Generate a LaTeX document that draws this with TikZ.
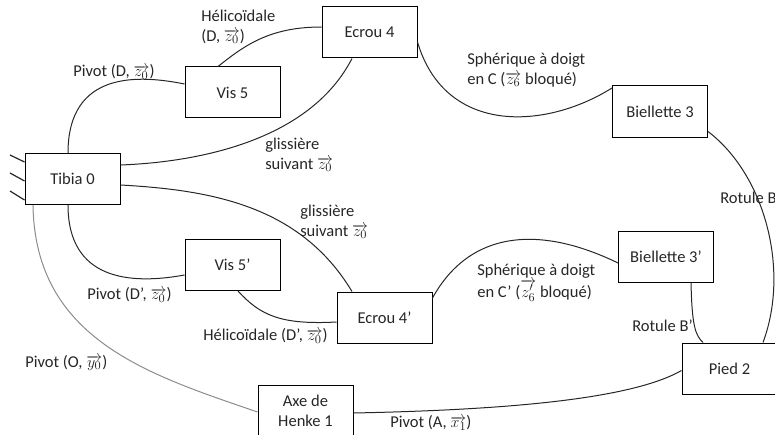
\documentclass[tikz,border=0pt]{standalone}
\usepackage{fontspec}
\setmainfont{Carlito}
\usetikzlibrary{calc}
\tikzset{
  box/.style={draw, line width=0.75pt, rectangle, minimum width=71.25pt, minimum height=38.25pt, inner sep=0pt, align=center, text=black!85},
  lab/.style={inner sep=0pt, anchor=west, align=left, text=black!85},
  link/.style={line width=0.75pt, draw=black!85},
  glink/.style={line width=0.75pt, draw=black!45},
  hatch/.style={line width=0.9pt, draw=black!85}
}
\begin{document}
\begin{tikzpicture}[x=0.75pt,y=-0.75pt,font=\fontsize{12.4pt}{15pt}\selectfont]
\useasboundingbox (0,0) rectangle (775,435);
\begin{scope}
\clip (0,0) rectangle (775,435);
% nodes
\node[box] (tibia) at (72.5,179) {Tibia 0};
\node[box] (vis) at (232.5,92.5) {Vis 5};
\node[box] (ecrou) at (369.5,32.5) {Ecrou 4};
\node[box] (biel) at (660,111.5) {Biellette 3};
\node[box] (visp) at (232.5,265) {Vis 5’};
\node[box] (ecroup) at (384.5,317.5) {Ecrou 4’};
\node[box] (bielp) at (666,256.5) {Biellette 3’};
\node[box] (pied) at (729.5,368.5) {Pied 2};
\node[box] (axe) at (305.5,410.5) {Axe de\\Henke 1};
% ground hatching
\coordinate (h1) at (10,155);
\coordinate (h2) at (10,173);
\coordinate (h3) at (10,191);
\draw[hatch] (h1) -- ($(tibia.north west)+(0,9)$);
\draw[hatch] (h2) -- ($(tibia.west)+(0,2)$);
\draw[hatch] (h3) -- ($(tibia.south west)+(0,-5)$);
% connectors
\draw[link] ($(tibia.north)+(-4.5,0)$) .. controls (68,70) and (140,75) .. ($(vis.west)+(0,-8.5)$);
\draw[link] ($(vis.north)+(-14.5,0)$) .. controls (245,45) and (270,27) .. ($(ecrou.west)+(0,-5.5)$);
\draw[link] ($(tibia.east)+(0,-14)$) .. controls (200,162) and (310,140) .. ($(ecrou.south)+(-17.5,0)$);
\draw[link] ($(tibia.east)+(0,6)$) .. controls (210,190) and (300,205) .. ($(ecroup.north)+(-32.5,0)$);
\draw[link] ($(tibia.south)+(-4.5,0)$) .. controls (68,280) and (130,285) .. ($(visp.west)+(0,10)$);
\draw[link] ($(visp.south)+(5.5,0)$) .. controls (260,315) and (280,325) .. ($(ecroup.west)+(0,4.5)$);
\draw[link] ($(ecrou.east)+(0,9.5)$) .. controls (445,135) and (545,130) .. ($(biel.west)+(0,-23.5)$);
\draw[link] ($(biel.south east)+(0,-6)$) .. controls (765,175) and (790,270) .. ($(pied.north)+(33.5,0)$);
\draw[link] ($(ecroup.east)+(0,-19.5)$) .. controls (470,230) and (540,225) .. ($(bielp.west)+(0,6.5)$);
\draw[link] ($(bielp.south)+(25,0)$) .. controls (692,325) and (695,335) .. ($(pied.north)+(-26.5,0)$);
\draw[link] ($(axe.east)+(0,2.5)$) .. controls (500,410) and (630,400) .. ($(pied.west)+(0,2)$);
\draw[glink] ($(tibia.south)+(-39.5,0)$) .. controls (35,340) and (150,375) .. ($(axe.west)+(0,1.5)$);
% labels
\node[lab] (l1) at (201,27) {Hélicoïdale\\(D, $\overrightarrow{z_0}$)};
\node[lab] (l2) at (73,72) {Pivot (D, $\overrightarrow{z_0}$)};
\node[lab] (l3) at (265,155) {glissière\\suivant $\overrightarrow{z_0}$};
\node[lab] (l4) at (300,222) {glissière\\suivant $\overrightarrow{z_0}$};
\node[lab] (l5) at (87,295) {Pivot (D’, $\overrightarrow{z_0}$)};
\node[lab] (l6) at (203,336) {Hélicoïdale (D’, $\overrightarrow{z_0}$)};
\node[lab] (l7) at (25,363) {Pivot (O, $\overrightarrow{y_0}$)};
\node[lab] (l8) at (390,423) {Pivot (A, $\overrightarrow{x_1}$)};
\node[lab] (l9) at (467,70) {Sphérique à doigt\\en C ($\overrightarrow{z_6}$ bloqué)};
\node[lab] (l10) at (477,283) {Sphérique à doigt\\en C’ ($\overrightarrow{z'_6}$ bloqué)};
\node[lab] (l11) at (720,198) {Rotule B};
\node[lab] (l12) at (632,326) {Rotule B’};
\end{scope}
\end{tikzpicture}
\end{document}
